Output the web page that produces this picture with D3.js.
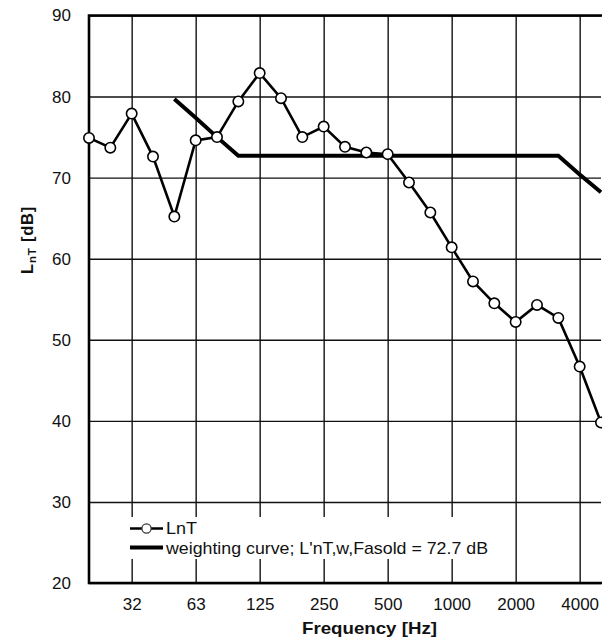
<!DOCTYPE html>
<html><head><meta charset="utf-8">
<script src="https://cdn.jsdelivr.net/npm/d3@7"></script>
<style>body{margin:0;background:#fff;} svg{display:block;}</style>
</head><body>
<svg id="c" width="602" height="640"></svg>
<script>
const bands = ["20","25","31.5","40","50","63","80","100","125","160","200","250","315","400","500","630","800","1000","1250","1600","2000","2500","3150","4000","5000"];
const tickBands = ["31.5","63","125","250","500","1000","2000","4000"];
const tickLabels = ["32","63","125","250","500","1000","2000","4000"];
const lnT = [74.9,73.7,77.9,72.6,65.2,74.6,75.0,79.4,82.9,79.8,75.0,76.3,73.8,73.1,72.9,69.4,65.7,61.4,57.2,54.5,52.2,54.3,52.7,46.7,39.8];
const weightBands = ["50","63","80","100","125","160","200","250","315","400","500","630","800","1000","1250","1600","2000","2500","3150","4000","5000"];
const weightVals = [79.7,77.4,75.0,72.7,72.7,72.7,72.7,72.7,72.7,72.7,72.7,72.7,72.7,72.7,72.7,72.7,72.7,72.7,72.7,70.4,68.2];
const yTicks = [20,30,40,50,60,70,80,90];
const legendLabels = ["LnT","weighting curve; L'nT,w,Fasold = 72.7 dB"];

const svg = d3.select("#c");
const L = 89, R = 601, T = 15.5, B = 583;
const x = d3.scalePoint().domain(bands).range([L, R]);
const y = d3.scaleLinear().domain([20, 90]).range([B, T]);
const font = "'Liberation Sans', Arial, sans-serif";

// grid
const gx = svg.append("g").attr("transform", `translate(0,${B})`)
  .call(d3.axisBottom(x).tickValues(tickBands).tickFormat((d,i)=>tickLabels[i]).tickSize(-(B-T)).tickPadding(15));
gx.select(".domain").remove();
gx.selectAll(".tick line").attr("stroke", "#111").attr("stroke-width", 1.4);
gx.selectAll(".tick text").attr("font-family", font).attr("font-size", 17).attr("fill", "#111");

const gy = svg.append("g").attr("transform", `translate(${L},0)`)
  .call(d3.axisLeft(y).tickValues(yTicks).tickSize(-(R-L)).tickPadding(18));
gy.select(".domain").remove();
gy.selectAll(".tick line").attr("stroke", "#111").attr("stroke-width", 1.4);
gy.selectAll(".tick text").attr("font-family", font).attr("font-size", 17).attr("fill", "#111");

// legend background
svg.append("rect").attr("x", 124).attr("y", 517).attr("width", 372).attr("height", 42).attr("fill", "#fff");

// frame
svg.append("path").attr("d", `M${R+2},${T}H${L}V${B}H${R+2}`).attr("fill","none").attr("stroke","#000").attr("stroke-width",2.6);

// weighting curve
const wLine = d3.line().x((d,i)=>x(weightBands[i])).y(d=>y(d));
svg.append("path").datum(weightVals).attr("d", wLine).attr("fill","none").attr("stroke","#000").attr("stroke-width",4).attr("stroke-linejoin","miter");

// LnT
const line = d3.line().x((d,i)=>x(bands[i])).y(d=>y(d));
svg.append("path").datum(lnT).attr("d", line).attr("fill","none").attr("stroke","#000").attr("stroke-width",2.6);
svg.selectAll("circle.p").data(lnT).enter().append("circle").attr("class","p")
  .attr("cx",(d,i)=>x(bands[i])).attr("cy",d=>y(d)).attr("r",5.2)
  .attr("fill","#fff").attr("stroke","#000").attr("stroke-width",1.6);

// legend
const lg = svg.append("g");
lg.append("line").attr("x1",130).attr("x2",163).attr("y1",528.5).attr("y2",528.5).attr("stroke","#000").attr("stroke-width",2.4);
lg.append("circle").attr("cx",146.5).attr("cy",528.5).attr("r",4.6).attr("fill","#fff").attr("stroke","#333").attr("stroke-width",1.2);
lg.append("text").attr("x",166).attr("y",534).attr("font-family",font).attr("font-size",17).attr("fill","#111")
  .attr("textLength",31).attr("lengthAdjust","spacingAndGlyphs").text(legendLabels[0]);
lg.append("line").attr("x1",130).attr("x2",163).attr("y1",547.5).attr("y2",547.5).attr("stroke","#000").attr("stroke-width",4);
lg.append("text").attr("x",166).attr("y",553.5).attr("font-family",font).attr("font-size",17).attr("fill","#111")
  .attr("textLength",322).attr("lengthAdjust","spacingAndGlyphs").text(legendLabels[1]);

// axis titles
svg.append("text").attr("x",302).attr("y",634).attr("font-family",font).attr("font-weight","bold").attr("font-size",16.5).attr("fill","#111")
  .attr("textLength",135).attr("lengthAdjust","spacingAndGlyphs").text("Frequency [Hz]");
const yt = svg.append("text").attr("transform","translate(33,274) rotate(-90)")
  .attr("font-family",font).attr("font-weight","bold").attr("font-size",16.5).attr("fill","#111")
  .attr("letter-spacing",0.8);
yt.append("tspan").text("L");
yt.append("tspan").attr("dy",3).attr("font-size",11.5).text("nT");
yt.append("tspan").attr("dy",-3).text(" [dB]");
</script>
</body></html>
